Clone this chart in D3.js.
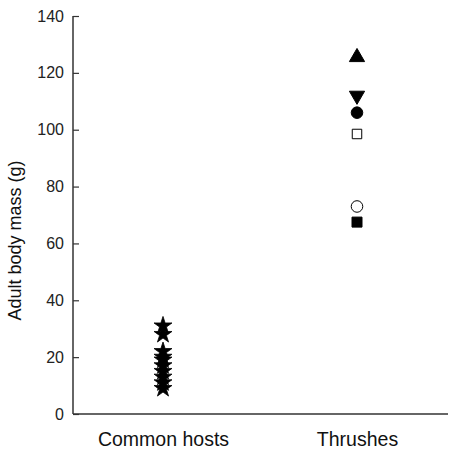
<!DOCTYPE html>
<html>
<head>
<meta charset="utf-8">
<script src="https://cdn.jsdelivr.net/npm/d3@7"></script>
<style>
body{margin:0;background:#fff;}
text{font-family:"Liberation Sans",Arial,sans-serif;}
</style>
</head>
<body>
<div id="chart-area"></div>
<script>
var groups=["Common hosts","Thrushes"];
var hostMass=[31,28,22,20,19,17,15,13,11,9];
var thrushMass=[125.5,112,106,98.5,73,67.5];
var thrushShapes=["triangleUp","triangleDown","circleFill","squareOpen","circleOpen","squareFill"];
var yTicks=[0,20,40,60,80,100,120,140];

var margin={left:73,right:2,top:16,bottom:42};
var width=450-margin.left-margin.right;
var height=457-margin.top-margin.bottom;

var svg=d3.select("#chart-area").append("svg")
    .attr("width",450)
    .attr("height",457);
var g=svg.append("g")
    .attr("transform","translate("+margin.left+","+margin.top+")");

var x=d3.scalePoint()
    .domain(groups)
    .range([90,284]);

var y=d3.scaleLinear()
    .domain([0,140])
    .range([height-1,0]);

// axes
var leftAxis=d3.axisLeft(y).tickValues(yTicks).tickSize(-6).tickPadding(9);
var ly=g.append("g").attr("class","left axis").call(leftAxis);
ly.select(".domain").remove();
ly.selectAll("line").attr("stroke","#333").attr("stroke-width",1.2);
ly.selectAll("text").attr("font-size","16px").attr("fill","#222");
g.append("line").attr("x1",0).attr("x2",0).attr("y1",0).attr("y2",y(0))
    .attr("stroke","#333").attr("stroke-width",1.5);

var bottomAxis=d3.axisBottom(x).tickSize(0).tickPadding(18);
var bx=g.append("g").attr("class","bottom axis")
    .attr("transform","translate(0,"+y(0)+")")
    .call(bottomAxis);
bx.select(".domain").attr("d","M0,0H"+width).attr("stroke","#333").attr("stroke-width",1.5);
bx.selectAll("text").attr("font-size","19.5px").attr("fill","#111");

g.append("text")
    .attr("class","y axis-label")
    .attr("x",-y(61))
    .attr("y",-52)
    .attr("font-size","18px")
    .attr("text-anchor","middle")
    .attr("transform","rotate(-90)")
    .style("fill","#111")
    .text("Adult body mass (g)");

// common hosts: stars
var star=d3.symbol().type(d3.symbolStar).size(100);
g.selectAll(".host").data(hostMass).enter().append("path")
    .attr("class","host")
    .attr("d",star)
    .attr("transform",(d)=>"translate("+x(groups[0])+","+y(d)+")")
    .attr("fill","#000").attr("stroke","#000").attr("stroke-width",0.8);

// thrushes
var shapeMap={
  triangleUp:{type:d3.symbolTriangle,size:100,rot:0,fill:"#000"},
  triangleDown:{type:d3.symbolTriangle,size:100,rot:180,fill:"#000"},
  circleFill:{type:d3.symbolCircle,size:105,rot:0,fill:"#000"},
  squareOpen:{type:d3.symbolSquare,size:90,rot:0,fill:"#fff"},
  circleOpen:{type:d3.symbolCircle,size:105,rot:0,fill:"#fff"},
  squareFill:{type:d3.symbolSquare,size:100,rot:0,fill:"#000"}
};
g.selectAll(".thrush").data(thrushMass).enter().append("path")
    .attr("class","thrush")
    .attr("d",(d,i)=>d3.symbol().type(shapeMap[thrushShapes[i]].type).size(shapeMap[thrushShapes[i]].size)())
    .attr("transform",(d,i)=>"translate("+x(groups[1])+","+y(d)+") rotate("+shapeMap[thrushShapes[i]].rot+")")
    .attr("fill",(d,i)=>shapeMap[thrushShapes[i]].fill)
    .attr("stroke","#000").attr("stroke-width",1);
</script>
</body>
</html>
